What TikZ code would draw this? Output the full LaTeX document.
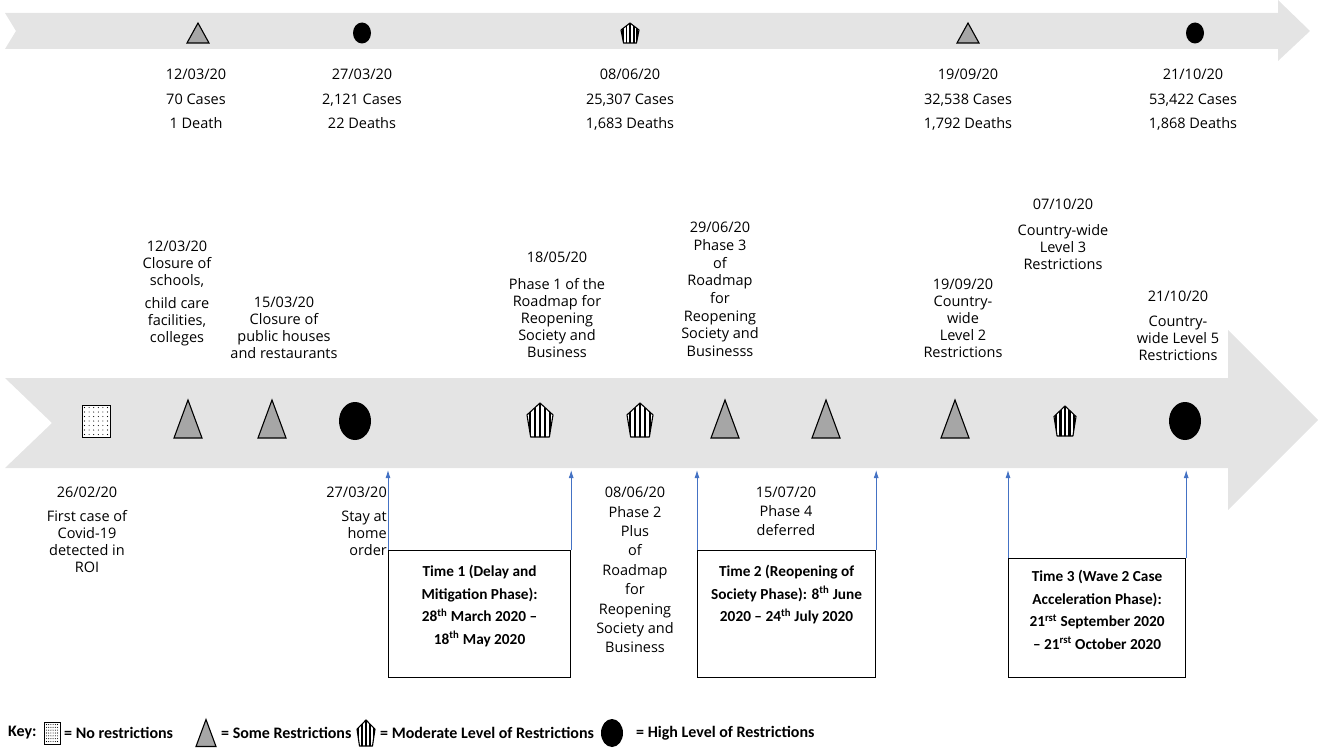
\documentclass[tikz,border=0pt]{standalone}
\usepackage{fontspec}
\setmainfont{Open Sans}
\newfontfamily\calib{Carlito}
\usetikzlibrary{arrows.meta,calc}
\definecolor{bandgray}{HTML}{E4E4E4}
\definecolor{trigray}{HTML}{A6A6A6}
\definecolor{arrowblue}{HTML}{4472C4}
\newcommand\symTri[4]{% x y w h
  \draw[trisym] (#1-#3/2,#2+#4/2) -- (#1+#3/2,#2+#4/2) -- (#1,#2-#4/2) -- cycle;}
\newcommand\symCirc[4]{% x y rx ry
  \fill (#1,#2) ellipse [x radius=#3, y radius=#4];}
\newcommand\symPent[5]{% x y halfw halfh period
  \begin{scope}[shift={(#1,#2)},xscale=#3,yscale=#4]
    \begin{scope}
      \clip (0,-1) -- (1,-0.3) -- (0.72,1) -- (-0.72,1) -- (-1,-0.3) -- cycle;
      \fill[white] (-1.2,-1.2) rectangle (1.2,1.2);
      \foreach \k in {-7,...,7} \fill (\k*#5-#5/4,-1.2) rectangle (\k*#5+#5/4,1.2);
    \end{scope}
    \draw[line width=1.1pt,line join=round] (0,-1) -- (1,-0.3) -- (0.72,1) -- (-0.72,1) -- (-1,-0.3) -- cycle;
  \end{scope}}
\newcommand\symSq{[4]}
\renewcommand\symSq[4]{% x y halfw halfh
  \draw[fill=white,line width=1pt] (#1-#3,#2-#4) rectangle (#1+#3,#2+#4);
  \foreach \i in {0,...,5} \foreach \j in {0,...,6}
    \fill ({#1-#3+2.5+\i*(2*#3-5)/5},{#2-#4+2.5+\j*(2*#4-5)/6}) circle (0.55);}
\begin{document}
\begin{tikzpicture}[x=1pt,y=-1pt,
  trisym/.style={fill=trigray,draw=black,line width=1.1pt,line join=miter},
  lbl/.style={font=\fontsize{14.5}{17}\selectfont,align=center,inner sep=0pt},
  toplbl/.style={font=\fontsize{14.5}{24.5}\selectfont,align=center,inner sep=0pt},
  tbox/.style={draw=black,line width=1.2pt,inner sep=0pt},
  boxtxt/.style={font=\calib\bfseries\fontsize{15.3}{22.5}\selectfont,align=center,inner sep=0pt},
  keytxt/.style={font=\calib\bfseries\fontsize{16}{18}\selectfont,inner sep=0pt,anchor=west},
  blue arrow/.style={draw=arrowblue,line width=0.9pt,-{Latex[length=8pt,width=5pt]}}]
\useasboundingbox (0,0) rectangle (1320,752);

% ---------- top timeline ----------
\fill[bandgray] (5,13) -- (1278,13) -- (1278,0) -- (1310,31) -- (1278,61) -- (1278,49) -- (5,49) -- (16,31) -- cycle;
\symTri{198}{33}{22}{20}
\symCirc{362}{33}{9}{10.5}
\symPent{630}{33}{9}{10}{0.4}
\symTri{968}{33}{22}{20}
\symCirc{1195}{33}{9}{10.5}

\node[toplbl,anchor=north] (t1) at (196,69) {12/03/20\\70 Cases\\1 Death};
\node[toplbl,anchor=north] (t2) at (362,69) {27/03/20\\2,121 Cases\\22 Deaths};
\node[toplbl,anchor=north] (t3) at (630,69) {08/06/20\\25,307 Cases\\1,683 Deaths};
\node[toplbl,anchor=north] (t4) at (968,69) {19/09/20\\32,538 Cases\\1,792 Deaths};
\node[toplbl,anchor=north] (t5) at (1193,69) {21/10/20\\53,422 Cases\\1,868 Deaths};

% ---------- upper event labels ----------
\node[lbl,anchor=north] (e1) at (177,241) {12/03/20\\Closure of\\schools,\\[6pt]child care\\facilities,\\colleges};
\node[lbl,anchor=north] (e2) at (284,297) {15/03/20\\Closure of\\public houses\\and restaurants};
\node[lbl,anchor=north] (e3) at (557,252) {18/05/20\\[10pt]Phase 1 of the\\Roadmap for\\Reopening\\Society and\\Business};
\node[lbl,anchor=north,font=\fontsize{14.5}{17.7}\selectfont] (e4) at (720,222) {29/06/20\\Phase 3\\of\\Roadmap\\for\\Reopening\\Society and\\Businesss};
\node[lbl,anchor=north] (e5) at (1063,199) {07/10/20\\[9pt]Country-wide\\Level 3\\Restrictions};
\node[lbl,anchor=north] (e6) at (963,279) {19/09/20\\Country-\\wide\\Level 2\\Restrictions};
\node[lbl,anchor=north] (e7) at (1178,291) {21/10/20\\[8pt]Country-\\wide Level 5\\Restrictions};

% ---------- main timeline ----------
\fill[bandgray] (5,378) -- (1228,378) -- (1228,330) -- (1318,420) -- (1228,510) -- (1228,468) -- (5,468) -- (52,423) -- cycle;
\coordinate (bandbot) at (0,470);
\symSq{96}{421}{14}{16}
\symTri{188}{419}{28}{38}
\symTri{272}{419}{28}{38}
\symCirc{355}{421}{16}{19}
\symPent{540}{420}{13}{17}{0.38}
\symPent{640}{420}{13}{17}{0.38}
\symTri{725}{419}{28}{38}
\symTri{826}{419}{28}{38}
\symTri{955}{419}{28}{38}
\symPent{1065}{421}{11}{15}{0.42}
\symCirc{1185}{421}{16}{19}

% ---------- lower event labels ----------
\node[lbl,anchor=north] (l1) at (87,487) {26/02/20\\[7pt]First case of\\Covid-19\\detected in\\ROI};
\node[lbl,anchor=north east,align=right] (l2) at (387,487) {27/03/20\\[7pt]Stay at\\home\\order};
\node[lbl,anchor=north,font=\fontsize{14.5}{19.4}\selectfont] (l3) at (635,487) {08/06/20\\Phase 2\\Plus\\of\\Roadmap\\for\\Reopening\\Society and\\Business};
\node[lbl,anchor=north,font=\fontsize{14.5}{19}\selectfont] (l4) at (786,487) {15/07/20\\Phase 4\\deferred};

% ---------- time boxes ----------
\node[tbox,anchor=north west,minimum width=182,minimum height=127] (box1) at (388,550) {};
\node[tbox,anchor=north west,minimum width=178,minimum height=127] (box2) at (697,550) {};
\node[tbox,anchor=north west,minimum width=177,minimum height=119] (box3) at (1008,558) {};

\node[boxtxt,anchor=north] (box1t) at ($(box1.north)+(0,15)$) {Time 1 (Delay and\\Mitigation Phase):\\28\textsuperscript{th} March 2020 –\\18\textsuperscript{th} May 2020};
\node[boxtxt,anchor=north] (box2t) at ($(box2.north)+(0,15)$) {Time 2 (Reopening of\\Society Phase): 8\textsuperscript{th} June\\2020 – 24\textsuperscript{th} July 2020};
\node[boxtxt,anchor=north] (box3t) at ($(box3.north)+(0,12)$) {Time 3 (Wave 2 Case\\Acceleration Phase):\\21\textsuperscript{rst} September 2020\\– 21\textsuperscript{rst} October 2020};

\draw[blue arrow] (box1.north west) -- (box1.north west |- bandbot);
\draw[blue arrow] (box1.north east) -- (box1.north east |- bandbot);
\draw[blue arrow] (box2.north west) -- (box2.north west |- bandbot);
\draw[blue arrow] (box2.north east) -- (box2.north east |- bandbot);
\draw[blue arrow] (box3.north west) -- (box3.north west |- bandbot);
\draw[blue arrow] (box3.north east) -- (box3.north east |- bandbot);

% ---------- key ----------
\node[keytxt] (k0) at (8,733) {Key:};
\symSq{52}{733}{8}{11}
\node[keytxt] (k1) at (64,733) {= No restrictions};
\symTri{206}{733}{20}{27}
\node[keytxt] (k2) at (221,733) {= Some Restrictions};
\symPent{366}{733}{9}{13}{0.42}
\node[keytxt] (k3) at (380,733) {= Moderate Level of Restrictions};
\symCirc{612}{733}{11}{14}
\node[keytxt] (k4) at (636,733) {= High Level of Restrictions};
\end{tikzpicture}
\end{document}
